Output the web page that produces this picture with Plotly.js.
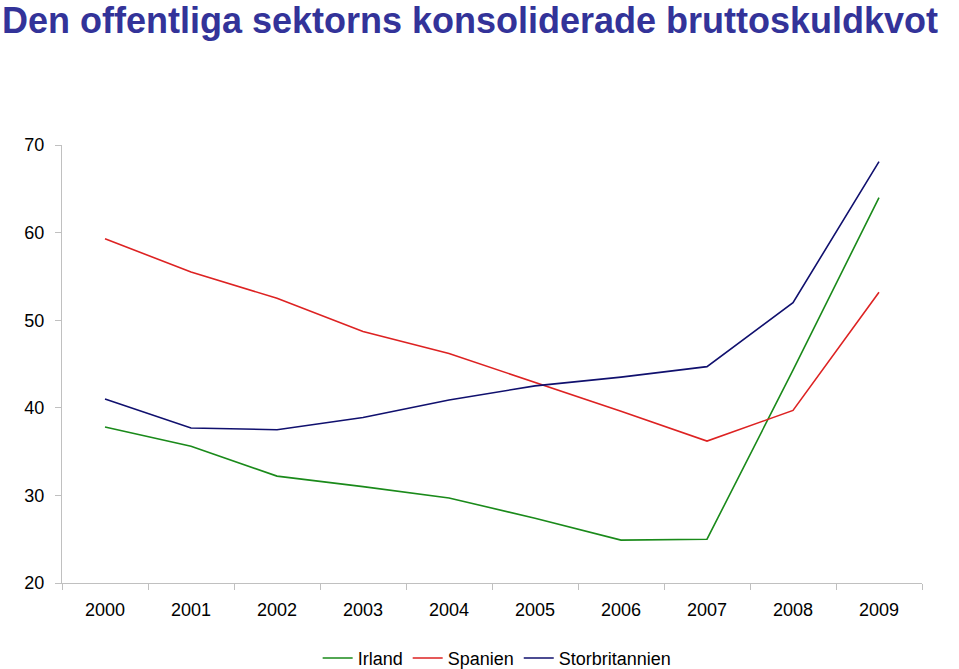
<!DOCTYPE html>
<html>
<head>
<meta charset="utf-8">
<script src="https://cdn.plot.ly/plotly-3.0.1.min.js"></script>
<style>
  body { margin: 0; background: #fff; }
  #chart { width: 959px; height: 669px; }
</style>
</head>
<body>
<div id="chart"></div>
<script>
var years = ['2000', '2001', '2002', '2003', '2004', '2005', '2006', '2007', '2008', '2009'];

var irland = [37.8, 35.6, 32.2, 31.0, 29.7, 27.4, 24.9, 25.0, 44.3, 64.0];
var spanien = [59.3, 55.5, 52.5, 48.7, 46.2, 42.9, 39.6, 36.2, 39.7, 53.2];
var storbritannien = [41.0, 37.7, 37.5, 38.9, 40.9, 42.5, 43.5, 44.7, 52.0, 68.1];

var yTicks = [20, 30, 40, 50, 60, 70];

var trace1 = {
  x: years,
  y: irland,
  name: 'Irland',
  mode: 'lines',
  type: 'scatter',
  line: {color: '#1a8a1a', width: 1.6}
};

var trace2 = {
  x: years,
  y: spanien,
  name: 'Spanien',
  mode: 'lines',
  type: 'scatter',
  line: {color: '#dd2222', width: 1.6}
};

var trace3 = {
  x: years,
  y: storbritannien,
  name: 'Storbritannien',
  mode: 'lines',
  type: 'scatter',
  line: {color: '#10106e', width: 1.6}
};

var layout = {
  width: 959,
  height: 669,
  margin: {l: 62, r: 37, t: 145, b: 86},
  paper_bgcolor: '#fff',
  plot_bgcolor: '#fff',
  font: {family: 'Liberation Sans, Arial, sans-serif', size: 18, color: '#000'},
  title: {
    text: '<b>Den offentliga sektorns konsoliderade bruttoskuldkvot</b>',
    font: {family: 'Liberation Sans, Arial, sans-serif', size: 36, color: '#333399'},
    x: 0.002,
    xref: 'container',
    xanchor: 'left',
    y: 0.97,
    yref: 'container',
    yanchor: 'middle'
  },
  xaxis: {
    type: 'category',
    range: [-0.5, 9.5],
    tickson: 'boundaries',
    ticks: 'outside',
    ticklen: 6,
    tickcolor: '#c0c0c0',
    showline: true,
    linecolor: '#c0c0c0',
    linewidth: 1,
    showgrid: false,
    zeroline: false,
    tickfont: {size: 18},
    ticklabelstandoff: 10,
    fixedrange: true
  },
  yaxis: {
    range: [20, 70],
    tickvals: yTicks,
    ticks: 'outside',
    ticklen: 6,
    tickcolor: '#c0c0c0',
    showline: true,
    linecolor: '#c0c0c0',
    linewidth: 1,
    showgrid: false,
    zeroline: false,
    tickfont: {size: 18},
    ticklabelstandoff: 7,
    fixedrange: true
  },
  showlegend: true,
  legend: {
    orientation: 'h',
    x: 0.506,
    xref: 'paper',
    xanchor: 'center',
    y: 0.016,
    yref: 'container',
    yanchor: 'middle',
    font: {size: 18},
    itemwidth: 30,
    tracegroupgap: 0,
    bgcolor: 'rgba(0,0,0,0)'
  },
  hovermode: false
};

var data = [trace1, trace2, trace3];

Plotly.newPlot('chart', data, layout, {displayModeBar: false, staticPlot: true});
</script>
</body>
</html>
